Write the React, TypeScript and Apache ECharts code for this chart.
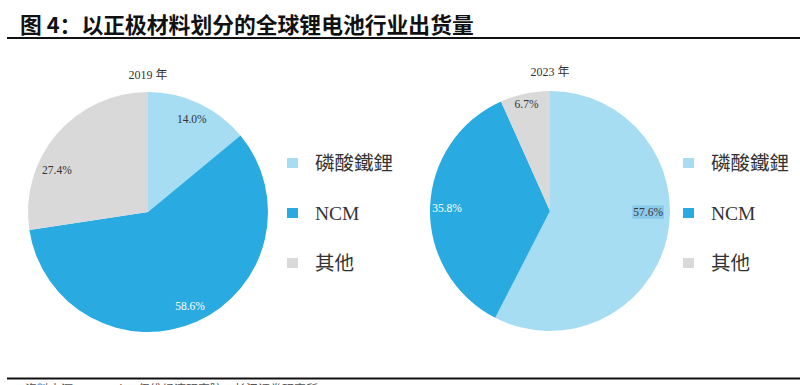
import React, { useEffect, useRef } from "react";
import * as echarts from "echarts";

const categories = ["磷酸鐵鋰", "NCM", "其他"];
const share2019 = [14.0, 58.6, 27.4];
const share2023 = [57.6, 35.8, 6.7];
const yearLabels = ["2019 年", "2023 年"];
const titleText = "图 4：以正极材料划分的全球锂电池行业出货量";
const sourceText = "资料来源：EVTank，伊维经济研究院，长江证券研究所";

const COLORS = ["#a6ddf2", "#29abe2", "#d9d9d9"];
const LABEL_FONT = "Liberation Serif, DejaVu Serif, Noto Sans CJK SC, serif";
const LEGEND_FONT = "Liberation Serif, DejaVu Serif, Noto Sans CJK TC, serif";

export default function App() {
  const ref = useRef<HTMLDivElement>(null);

  useEffect(() => {
    if (!ref.current) return;
    const chart = echarts.init(ref.current, undefined, { renderer: "svg" });

    const pieData = (vals: number[]) =>
      categories.map((name, i) => ({ name, value: vals[i], itemStyle: { color: COLORS[i] } }));

    const labelData = (vals: number[], nudges: Record<string, any>) =>
      categories.map((name, i) => ({
        name,
        value: vals[i],
        itemStyle: { color: "rgba(0,0,0,0)" },
        label: {
          color: name === "NCM" ? "#ffffff" : "#333333",
          ...(nudges[name] || {}),
        },
      }));

    const basePie = (center: number[], vals: number[]) => ({
      type: "pie",
      center,
      radius: 120,
      startAngle: 90,
      clockwise: true,
      silent: true,
      label: { show: false },
      labelLine: { show: false },
      emphasis: { disabled: true },
      data: pieData(vals),
    });

    const labelPie = (center: number[], vals: number[], nudges: Record<string, any>) => ({
      type: "pie",
      center,
      radius: [80, 120],
      startAngle: 90,
      clockwise: true,
      silent: true,
      label: {
        show: true,
        position: "inside",
        formatter: (p: any) => Number(p.value).toFixed(1) + "%",
        fontFamily: LABEL_FONT,
        fontSize: 11.5,
      },
      labelLine: { show: false },
      emphasis: { disabled: true },
      data: labelData(vals, nudges),
    });

    const legendCommon = {
      orient: "vertical",
      top: 147,
      icon: "rect",
      itemWidth: 11,
      itemHeight: 10,
      itemGap: 28,
      selectedMode: false,
      data: categories,
      textStyle: {
        fontFamily: LEGEND_FONT,
        fontSize: 19.5,
        lineHeight: 22,
        color: "#333333",
        padding: [0, 0, 0, 12],
      },
    };

    chart.setOption({
      animation: false,
      backgroundColor: "#ffffff",
      legend: [
        { ...legendCommon, left: 282 },
        { ...legendCommon, left: 678 },
      ],
      series: [
        basePie([148, 212], share2019),
        basePie([550, 211], share2023),
        labelPie([148, 212], share2019, { 其他: { offset: [-13, 25] } }),
        labelPie([550, 211], share2023, {
          磷酸鐵鋰: { offset: [-2, -23], backgroundColor: "#8cc8ea", padding: [1, 1] },
          其他: { offset: [-2, -6] },
        }),
      ],
      graphic: [
        {
          type: "text",
          x: 20,
          y: 23,
          style: {
            text: titleText,
            font: "bold 21.8px Noto Sans CJK SC, sans-serif",
            fill: "#111111",
            verticalAlign: "middle",
          },
        },
        {
          type: "line",
          shape: { x1: 7, y1: 38, x2: 800, y2: 38 },
          style: { stroke: "#111111", lineWidth: 2 },
        },
        {
          type: "text",
          x: 148,
          y: 75,
          style: {
            text: yearLabels[0],
            font: "12px " + LABEL_FONT,
            fill: "#333333",
            align: "center",
            verticalAlign: "middle",
          },
        },
        {
          type: "text",
          x: 550,
          y: 72,
          style: {
            text: yearLabels[1],
            font: "12px " + LABEL_FONT,
            fill: "#333333",
            align: "center",
            verticalAlign: "middle",
          },
        },
        {
          type: "line",
          shape: { x1: 7, y1: 378.5, x2: 800, y2: 378.5 },
          style: { stroke: "#111111", lineWidth: 2 },
        },
        {
          type: "text",
          x: 25,
          y: 382,
          style: {
            text: sourceText,
            font: "12px Noto Sans CJK SC, sans-serif",
            fill: "#555555",
            verticalAlign: "top",
          },
        },
      ],
    });

    return () => chart.dispose();
  }, []);

  return (
    <div
      ref={ref}
      style={{ position: "fixed", left: 0, top: 0, width: 800, height: 385 }}
    />
  );
}
